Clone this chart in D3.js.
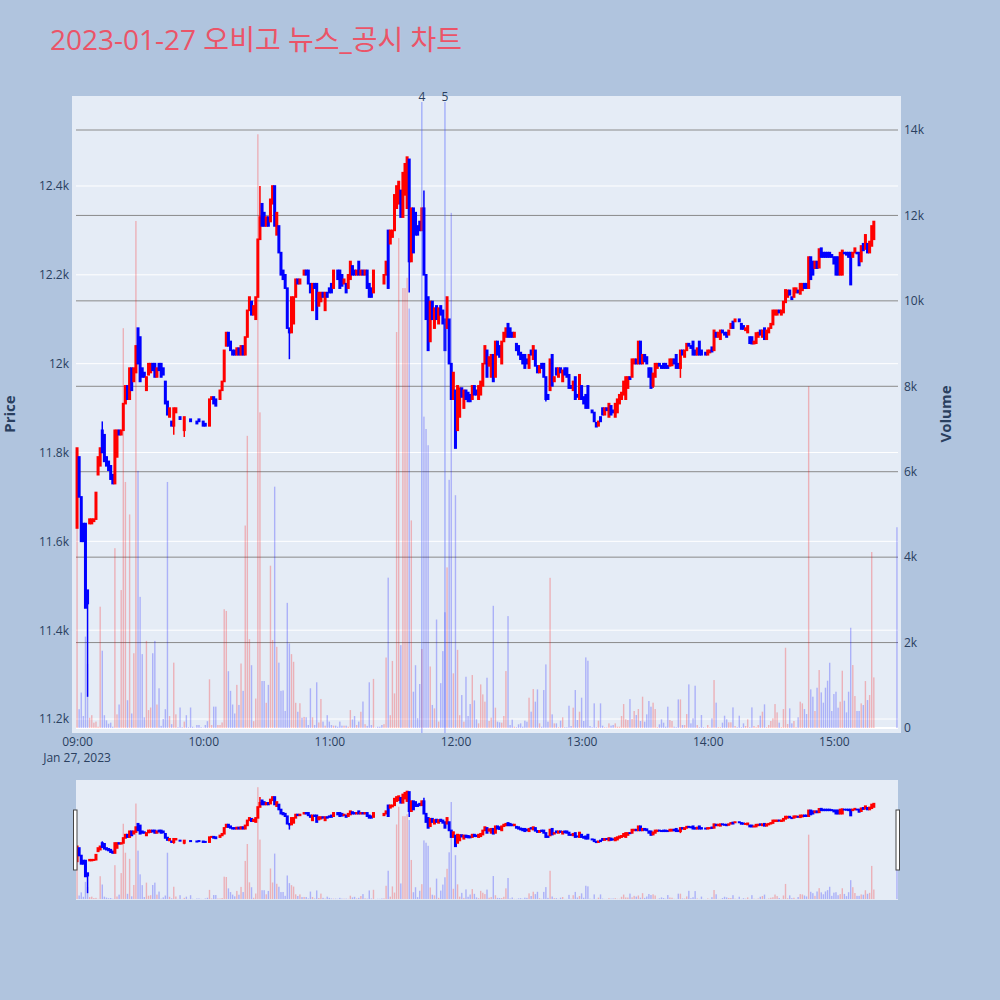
<!DOCTYPE html>
<html>
<head>
<meta charset="utf-8">
<script src="https://cdn.jsdelivr.net/npm/d3@7"></script>
<style>
  body { margin: 0; background: #b0c4de; }
  svg { display: block; font-family: "Open Sans", "Noto Sans CJK KR", sans-serif; }
</style>
</head>
<body>
<svg width="1000" height="1000"></svg>
<script>
// 1-minute candles, 09:00 .. 15:19 and the 15:30 closing auction
const minuteOffsets = d3.range(380).concat([390]);

const opens = [
  11630,11790,11700,11640,11640,11490,11640,11640,11645,11650,
  11750,11770,11850,11840,11790,11780,11770,11750,11730,11790,
  11850,11840,11850,11910,11950,11920,11990,11960,11980,12080,
  12060,11990,11980,11940,11975,11980,12000,12000,11970,12000,
  12000,11990,11960,11915,11880,11870,11860,11890,11890,11880,
  11875,11850,11870,11870,11875,11870,11870,11870,11875,11870,
  11870,11865,11860,11860,11920,11925,11920,11920,11920,11940,
  11960,12040,12070,12050,12030,12030,12020,12035,12020,12040,
  12020,12060,12120,12140,12110,12100,12150,12280,12360,12340,
  12310,12330,12320,12360,12400,12290,12310,12250,12210,12200,
  12170,12080,12070,12090,12150,12190,12180,12190,12200,12210,
  12210,12180,12120,12180,12180,12130,12140,12160,12120,12160,
  12170,12180,12170,12210,12210,12210,12200,12180,12180,12170,
  12190,12220,12210,12200,12230,12200,12210,12200,12210,12180,
  12170,12160,12200,12200,12200,12200,12180,12200,12300,12270,
  12285,12300,12350,12360,12390,12330,12380,12350,12460,12230,
  12350,12340,12310,12320,12300,12350,12200,12150,12050,12140,
  12080,12130,12090,12130,12120,12100,12080,12100,12000,11920,
  11940,11850,11880,11945,11900,11940,11935,11930,11920,11950,
  11940,11920,11930,11950,12000,12030,11995,11970,12020,11970,
  12050,12040,12000,12050,12060,12090,12080,12070,12060,12045,
  12040,12025,12020,12020,12010,11990,12030,12010,12030,11995,
  11980,12000,12000,11970,11930,11940,12020,11960,11990,11970,
  11990,11960,11990,11990,11975,11950,11940,11970,11930,11920,
  11950,11925,11930,11950,11890,11895,11890,11867,11860,11880,
  11900,11885,11900,11880,11905,11895,11880,11890,11910,11920,
  11930,11920,11945,11970,11970,12000,12010,12000,12050,12000,
  12020,12015,11990,11990,11950,11970,11990,12000,11995,12000,
  12000,11995,11995,11996,12010,12020,12000,11990,12030,12015,
  12030,12045,12040,12050,12030,12020,12050,12030,12020,12025,
  12020,12025,12037,12030,12070,12060,12055,12075,12070,12070,
  12065,12080,12095,12095,12097,12100,12090,12085,12075,12070,
  12060,12060,12045,12046,12060,12075,12060,12080,12055,12070,
  12080,12088,12110,12110,12120,12110,12115,12138,12150,12165,
  12150,12150,12160,12165,12157,12165,12180,12180,12170,12240,
  12230,12215,12230,12216,12260,12250,12250,12250,12250,12245,
  12240,12240,12240,12200,12200,12250,12250,12250,12250,12240,
  12250,12250,12250,12230,12270,12258,12270,12250,12265,12280,
  12280
];

const closes = [
  11810,11700,11600,11600,11450,11460,11650,11650,11650,11710,
  11790,11810,11800,11780,11770,11760,11740,11730,11850,11850,
  11840,11850,11910,11950,11920,11990,11940,11990,12040,12000,
  11960,11970,11970,11970,12000,12000,11985,11970,11990,11985,
  11970,11975,11910,11885,11900,11860,11900,11900,11890,11875,
  11875,11880,11870,11870,11870,11870,11870,11865,11870,11870,
  11860,11860,11860,11920,11925,11910,11905,11920,11940,11960,
  12030,12070,12040,12030,12020,12020,12035,12020,12040,12020,
  12060,12120,12150,12110,12130,12150,12280,12330,12310,12310,
  12330,12310,12370,12400,12310,12340,12250,12200,12190,12170,
  12080,12070,12150,12150,12190,12180,12190,12190,12210,12200,
  12180,12160,12180,12170,12100,12160,12160,12150,12160,12150,
  12160,12160,12210,12210,12190,12170,12175,12190,12160,12200,
  12230,12200,12200,12210,12200,12210,12200,12210,12170,12150,
  12150,12210,12200,12200,12200,12200,12200,12230,12170,12300,
  12300,12380,12400,12410,12330,12430,12450,12465,12230,12350,
  12250,12290,12290,12300,12350,12200,12100,12030,12140,12100,
  12125,12100,12125,12110,12090,12030,12150,12000,11920,11980,
  11810,11950,11945,11925,11940,11920,11915,11915,11950,11930,
  11930,11950,11960,12000,12040,11970,12015,12020,11960,12050,
  12020,12015,12050,12070,12080,12060,12060,12060,12070,12030,
  12020,12010,12000,11990,12000,12020,12020,12040,11995,11980,
  11995,11990,11970,11920,11920,12010,11950,11970,11975,11990,
  11980,11985,11975,11970,11945,11945,11960,11920,11925,11975,
  11920,11910,11900,11900,11890,11890,11870,11858,11870,11870,
  11885,11900,11895,11910,11885,11890,11910,11920,11930,11935,
  11960,11970,11970,11965,12010,12010,12000,12050,12000,12020,
  12005,12000,11970,11945,11978,12000,12000,11995,11990,11990,
  11990,11990,12010,12010,12000,11990,11990,12030,12020,12030,
  12045,12040,12035,12020,12020,12035,12020,12020,12020,12020,
  12030,12030,12027,12075,12060,12070,12075,12070,12065,12060,
  12075,12090,12080,12100,12097,12095,12078,12078,12080,12085,
  12046,12045,12050,12069,12070,12065,12075,12055,12075,12080,
  12090,12120,12120,12120,12115,12120,12140,12166,12165,12155,
  12145,12170,12170,12160,12180,12180,12170,12170,12240,12190,
  12200,12230,12215,12258,12240,12240,12240,12240,12240,12240,
  12225,12200,12200,12250,12255,12248,12245,12240,12178,12250,
  12260,12248,12221,12265,12255,12290,12250,12275,12310,12320,
  12280
];

const volumes = [
  4660,440,830,280,2140,1500,240,300,125,150,
  30,2840,1810,300,180,100,125,30,4210,320,
  550,3230,9360,5760,650,5000,340,1750,11870,6020,
  3070,1730,250,2040,420,480,1750,2040,550,930,
  50,210,440,5760,280,90,1530,320,20,480,
  20,150,300,20,480,30,10,70,70,20,
  10,70,160,1140,70,500,500,70,70,130,
  2780,2740,1330,870,550,340,1010,540,1510,870,
  4740,6840,2080,1470,160,690,13900,7390,1100,1100,
  590,1010,3800,2060,5650,1900,1530,870,880,400,
  2930,1980,1730,1550,590,380,580,240,260,250,
  70,930,250,70,1070,130,680,150,55,300,
  150,70,55,55,30,150,55,55,55,30,
  420,200,280,70,150,380,620,90,50,1070,
  70,1150,10,30,30,70,90,1650,3520,300,
  1570,810,9270,11470,1940,10300,10300,10540,9820,4860,
  850,1470,230,1030,1850,7290,7000,6620,1440,540,
  460,2540,150,1050,1800,2710,3760,5810,12060,1280,
  5450,1830,300,772,148,1200,281,561,1240,647,
  203,109,1021,787,616,1177,164,242,2861,476,
  148,133,125,281,1333,2620,70,195,31,20,
  86,109,31,172,148,710,382,912,616,904,
  109,31,889,1489,148,3516,320,109,109,20,
  172,250,20,20,522,47,476,889,187,382,
  710,164,1653,1575,47,20,577,20,172,577,
  55,20,16,109,55,70,109,31,31,281,
  561,203,187,678,210,398,304,444,164,733,
  148,320,632,499,593,444,20,86,203,125,
  31,499,187,164,31,20,670,670,70,70,
  327,1021,109,226,990,70,20,304,20,10,
  70,16,226,1123,593,20,20,125,288,203,
  133,133,483,47,20,288,20,109,47,203,
  20,483,47,20,70,288,382,554,20,70,
  164,226,561,366,125,20,444,1879,94,460,
  109,164,20,250,616,577,444,327,8000,904,
  733,398,943,1357,834,593,943,1107,1528,398,
  795,850,476,616,1341,639,366,850,2347,1474,
  748,398,398,577,538,1099,655,772,4120,1185,
  4700
];

// [minute, price] wicks that reach past the body
const wickHighs = [[12, 11870], [87, 12400], [165, 12390]];
const wickLows = [[5, 11250], [46, 11840], [51, 11835], [101, 12010], [158, 12160],
                  [223, 11915], [274, 11945], [287, 11968]];

const priceTicks = [11200, 11400, 11600, 11800, 12000, 12200, 12400];
const volumeTicks = [0, 2000, 4000, 6000, 8000, 10000, 12000, 14000];

// news / disclosure markers
const newsLabels = ["4", "5"];
const newsMinutes = [164, 175];

const titleText = "2023-01-27 오비고 뉴스_공시 차트";

const svg = d3.select("svg");
const UP = "#ff0000", DOWN = "#0000ff", TEXT = "#2a3f5f";

svg.append("rect").attr("width", 1000).attr("height", 1000).attr("fill", "#b0c4de");

const start = new Date(2023, 0, 27, 9, 0);

const candles = minuteOffsets.map((m, i) => ({
  t: d3.timeMinute.offset(start, m),
  o: opens[i], c: closes[i], v: volumes[i],
  h: Math.max(opens[i], closes[i]),
  l: Math.min(opens[i], closes[i])
}));
wickHighs.forEach(([m, p]) => { candles[m].h = Math.max(candles[m].h, p); });
wickLows.forEach(([m, p]) => { candles[m].l = Math.min(candles[m].l, p); });
candles.forEach((d, i) => {
  if (d.c !== d.o) d.up = d.c > d.o;
  else d.up = i > 0 && d.c > candles[i - 1].c;
});

const x = d3.scaleTime()
  .domain([d3.timeSecond.offset(start, -30), d3.timeSecond.offset(start, 390 * 60 + 30)])
  .range([76, 898]);

const priceDomain = [11168.5, 12602.6];
const volDomain = [-117, 14796];

const py = d3.scaleLinear().domain(priceDomain).range([733, 96]);
const vy = d3.scaleLinear().domain(volDomain).range([733, 96]);

// plot background
svg.append("rect").attr("x", 72).attr("y", 96).attr("width", 829).attr("height", 637)
  .attr("fill", "#e5ecf6");

// price grid (white)
svg.append("g").selectAll("line").data(priceTicks).join("line")
  .attr("x1", 76).attr("x2", 898)
  .attr("y1", d => py(d)).attr("y2", d => py(d))
  .attr("stroke", "#ffffff").attr("stroke-width", 1);

// volume grid (gray) and zero line
svg.append("g").selectAll("line").data(volumeTicks.filter(d => d > 0)).join("line")
  .attr("x1", 76).attr("x2", 898)
  .attr("y1", d => vy(d)).attr("y2", d => vy(d))
  .attr("stroke", "#8a8a8a").attr("stroke-width", 1);
svg.append("line").attr("x1", 76).attr("x2", 898)
  .attr("y1", vy(0)).attr("y2", vy(0))
  .attr("stroke", "#ffffff").attr("stroke-width", 2);

function drawCandles(g, yP, yV) {
  g.append("g").selectAll("rect").data(candles).join("rect")
    .attr("x", d => x(d.t) - 0.7)
    .attr("width", 1.4)
    .attr("y", d => yV(d.v))
    .attr("height", d => Math.max(0, yV(0) - yV(d.v)))
    .attr("fill", d => d.up ? UP : DOWN)
    .attr("fill-opacity", 0.25);

  g.append("g").selectAll("line").data(candles).join("line")
    .attr("x1", d => x(d.t)).attr("x2", d => x(d.t))
    .attr("y1", d => yP(d.h)).attr("y2", d => yP(d.l))
    .attr("stroke", d => d.up ? UP : DOWN)
    .attr("stroke-width", 1.5);

  g.append("g").selectAll("rect").data(candles).join("rect")
    .attr("x", d => x(d.t) - 0.7)
    .attr("width", 1.4)
    .attr("y", d => yP(Math.max(d.o, d.c)))
    .attr("height", d => Math.abs(yP(d.o) - yP(d.c)))
    .attr("fill", d => d.up ? UP : DOWN)
    .attr("stroke", d => d.up ? UP : DOWN)
    .attr("stroke-width", 1.6);
}

drawCandles(svg.append("g"), py, vy);

// news markers
const marks = svg.append("g");
newsMinutes.forEach((m, i) => {
  const mx = x(d3.timeMinute.offset(start, m));
  marks.append("line")
    .attr("x1", mx).attr("x2", mx).attr("y1", 102).attr("y2", 733)
    .attr("stroke", "rgba(70,90,255,0.45)").attr("stroke-width", 1.3);
  marks.append("text")
    .attr("x", mx).attr("y", 100.5)
    .attr("text-anchor", "middle")
    .attr("font-size", 12).attr("fill", TEXT)
    .text(newsLabels[i]);
});

// axes
const yLeft = svg.append("g").attr("transform", "translate(72,0)")
  .call(d3.axisLeft(py).tickValues(priceTicks).tickSize(0).tickPadding(3)
    .tickFormat(d3.format(".3~s")));
const yRight = svg.append("g").attr("transform", "translate(901,0)")
  .call(d3.axisRight(vy).tickValues(volumeTicks).tickSize(0).tickPadding(3)
    .tickFormat(d3.format("~s")));
const xAxis = svg.append("g").attr("transform", "translate(0,733)")
  .call(d3.axisBottom(x).ticks(d3.timeHour.every(1)).tickSize(0).tickPadding(4)
    .tickFormat(d3.timeFormat("%H:%M")));

[yLeft, yRight, xAxis].forEach(a => {
  a.select(".domain").remove();
  a.selectAll("text").attr("fill", TEXT).attr("font-size", 12)
    .attr("font-family", "\"Open Sans\", sans-serif");
});

svg.append("text")
  .attr("x", x(start)).attr("y", 762)
  .attr("text-anchor", "middle").attr("font-size", 12).attr("fill", TEXT)
  .text(d3.timeFormat("%b %d, %Y")(start));

// axis titles
svg.append("text")
  .attr("transform", "translate(15,414) rotate(-90)")
  .attr("text-anchor", "middle").attr("font-size", 15).attr("font-weight", "bold")
  .attr("fill", TEXT).text("Price");
svg.append("text")
  .attr("transform", "translate(951,414) rotate(-90)")
  .attr("text-anchor", "middle").attr("font-size", 15).attr("font-weight", "bold")
  .attr("fill", TEXT).text("Volume");

// title
svg.append("text")
  .attr("x", 50).attr("y", 50)
  .attr("font-size", 28).attr("fill", "#eb5468")
  .text(titleText);

// range slider
const sy = d3.scaleLinear().domain(priceDomain).range([900, 780]);
const svy = d3.scaleLinear().domain(volDomain).range([900, 780]);
svg.append("rect").attr("x", 76).attr("y", 780).attr("width", 822).attr("height", 120)
  .attr("fill", "#e5ecf6");
drawCandles(svg.append("g"), sy, svy);

[73.5, 896].forEach(gx => {
  svg.append("rect")
    .attr("x", gx).attr("y", 810).attr("width", 3.5).attr("height", 60)
    .attr("fill", "#ffffff").attr("stroke", "#444").attr("stroke-width", 1);
});
</script>
</body>
</html>
